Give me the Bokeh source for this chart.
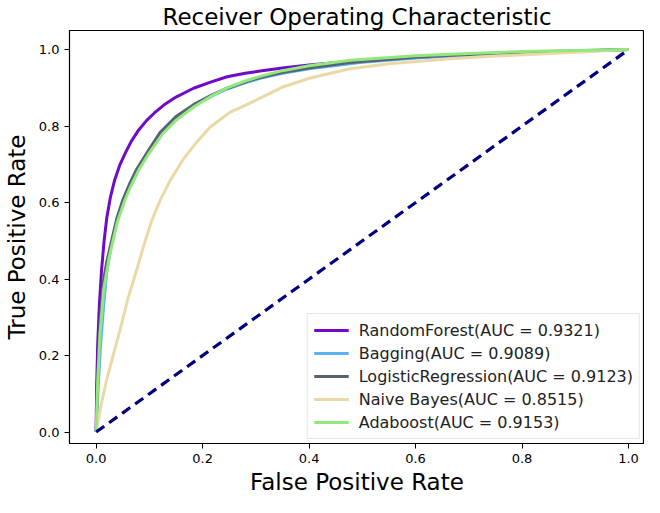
from bokeh.plotting import figure
from bokeh.models import Range1d, FixedTicker, Legend, LegendItem
from bokeh.embed import file_html
from bokeh.resources import INLINE

# ---- data ----
rf_fpr = [0.0, 0.001, 0.003, 0.006, 0.01, 0.015, 0.02, 0.027, 0.035, 0.045, 0.055, 0.066, 0.08, 0.095, 0.11, 0.13, 0.15, 0.183, 0.215, 0.246, 0.28, 0.308, 0.35, 0.4, 0.5, 0.6, 0.7, 0.8, 0.9, 1.0]
rf_tpr = [0.0, 0.12, 0.23, 0.33, 0.42, 0.5, 0.56, 0.615, 0.66, 0.7, 0.73, 0.76, 0.79, 0.815, 0.835, 0.858, 0.876, 0.899, 0.915, 0.929, 0.938, 0.944, 0.952, 0.96, 0.972, 0.98, 0.986, 0.991, 0.996, 1.0]

bag_fpr = [0.0, 0.004, 0.008, 0.014, 0.02, 0.03, 0.04, 0.052, 0.064, 0.0765, 0.09, 0.1, 0.12, 0.15, 0.183, 0.215, 0.246, 0.28, 0.308, 0.35, 0.4, 0.5, 0.6, 0.7, 0.8, 0.9, 1.0]
bag_tpr = [0.0, 0.12, 0.22, 0.33, 0.42, 0.5, 0.56, 0.61, 0.65, 0.685, 0.715, 0.737, 0.78, 0.822, 0.853, 0.877, 0.897, 0.913, 0.925, 0.938, 0.95, 0.967, 0.978, 0.986, 0.992, 0.996, 1.0]

lr_fpr = [0.0, 0.003, 0.007, 0.014, 0.02, 0.026, 0.039, 0.051, 0.064, 0.0765, 0.09, 0.1, 0.12, 0.15, 0.183, 0.215, 0.246, 0.289, 0.308, 0.35, 0.4, 0.477, 0.6, 0.665, 0.8, 0.9, 1.0]
lr_tpr = [0.0, 0.15, 0.28, 0.397, 0.445, 0.482, 0.559, 0.61, 0.652, 0.688, 0.718, 0.74, 0.783, 0.825, 0.856, 0.88, 0.899, 0.92, 0.927, 0.94, 0.952, 0.966, 0.98, 0.985, 0.993, 0.997, 1.0]

nb_fpr = [0.0, 0.01, 0.02, 0.03, 0.045, 0.06, 0.0795, 0.09, 0.105, 0.12, 0.14, 0.164, 0.19, 0.214, 0.25, 0.289, 0.308, 0.352, 0.4, 0.477, 0.55, 0.665, 0.75, 0.853, 0.93, 1.0]
nb_tpr = [0.0, 0.075, 0.138, 0.19, 0.267, 0.35, 0.439, 0.49, 0.555, 0.605, 0.66, 0.714, 0.76, 0.797, 0.835, 0.86, 0.873, 0.903, 0.925, 0.95, 0.963, 0.976, 0.983, 0.99, 0.995, 1.0]

ada_fpr = [0.0, 0.003, 0.007, 0.014, 0.02, 0.025, 0.04, 0.055, 0.067, 0.08, 0.1, 0.125, 0.15, 0.183, 0.215, 0.246, 0.28, 0.308, 0.35, 0.4, 0.477, 0.6, 0.7, 0.8, 0.9, 1.0]
ada_tpr = [0.0, 0.13, 0.25, 0.37, 0.42, 0.46, 0.55, 0.61, 0.648, 0.685, 0.73, 0.78, 0.815, 0.85, 0.877, 0.9, 0.918, 0.93, 0.945, 0.958, 0.972, 0.984, 0.99, 0.995, 0.998, 1.0]

chance_x = [0.0, 1.0]
chance_y = [0.0, 1.0]

model_labels = [
    "RandomForest(AUC = 0.9321)",
    "Bagging(AUC = 0.9089)",
    "LogisticRegression(AUC = 0.9123)",
    "Naive Bayes(AUC = 0.8515)",
    "Adaboost(AUC = 0.9153)",
]

x_ticks = [0.0, 0.2, 0.4, 0.6, 0.8, 1.0]
x_tick_labels = ["0.0", "0.2", "0.4", "0.6", "0.8", "1.0"]
y_ticks = [0.0, 0.2, 0.4, 0.6, 0.8, 1.0]
y_tick_labels = ["0.0", "0.2", "0.4", "0.6", "0.8", "1.0"]

FONT = "DejaVu Sans"

p = figure(width=644, height=497, output_backend="svg", toolbar_location=None,
           x_range=Range1d(-0.05, 1.03), y_range=Range1d(-0.03, 1.05),
           min_border_left=69, min_border_right=0, min_border_top=0, min_border_bottom=0)

p.title.text = "Receiver Operating Characteristic"
p.title.align = "center"
p.title.text_font = FONT
p.title.text_font_size = "23px"
p.title.text_font_style = "normal"
p.title.text_color = "black"
p.title.standoff = 2

p.xgrid.visible = False
p.ygrid.visible = False
p.outline_line_color = "black"
p.outline_line_width = 1.2
p.outline_line_alpha = 1.0
p.background_fill_color = "white"
p.border_fill_color = "white"

for ax, ticks, labels in ((p.xaxis, x_ticks, x_tick_labels), (p.yaxis, y_ticks, y_tick_labels)):
    ax.ticker = FixedTicker(ticks=ticks)
    ax.major_label_overrides = {t: l for t, l in zip(ticks, labels)}
    ax.minor_tick_line_color = None
    ax.major_tick_in = 0
    ax.major_tick_out = 5
    ax.major_tick_line_color = "black"
    ax.axis_line_color = "black"
    ax.major_label_text_font = FONT
    ax.major_label_text_font_size = "13px"
    ax.major_label_text_color = "black"
    ax.axis_label_text_font = FONT
    ax.axis_label_text_font_size = "23px"
    ax.axis_label_text_font_style = "normal"
    ax.axis_label_text_color = "black"

p.xaxis.major_label_standoff = 5
p.xaxis.axis_label_standoff = 3
p.yaxis.major_label_standoff = 5
p.yaxis.axis_label_standoff = 6

p.xaxis.axis_label = "False Positive Rate"
p.yaxis.axis_label = "True Positive Rate"

series = [
    (rf_fpr, rf_tpr, "#6e0ac8"),
    (bag_fpr, bag_tpr, "#5ab2f5"),
    (lr_fpr, lr_tpr, "#596275"),
    (nb_fpr, nb_tpr, "#ead9a6"),
    (ada_fpr, ada_tpr, "#93e87c"),
]

items = []
for (fx, ty, col), lab in zip(series, model_labels):
    r = p.line(fx, ty, line_color=col, line_width=3, line_join="round")
    items.append(LegendItem(label=lab, renderers=[r]))

p.line(chance_x, chance_y, line_color="#000080", line_width=3.2, line_dash="10 6")

legend = Legend(items=items, location="bottom_right")
legend.label_text_font = FONT
legend.label_text_font_size = "16px"
legend.label_text_color = "#222222"
legend.glyph_width = 35
legend.glyph_height = 20
legend.label_height = 20
legend.label_standoff = 10
legend.spacing = 3
legend.padding = 6
legend.margin = 4
legend.border_line_color = "#cccccc"
legend.border_line_width = 1
legend.background_fill_alpha = 0.85
p.add_layout(legend, "center")

open("out.html", "w").write(file_html(p, INLINE))
